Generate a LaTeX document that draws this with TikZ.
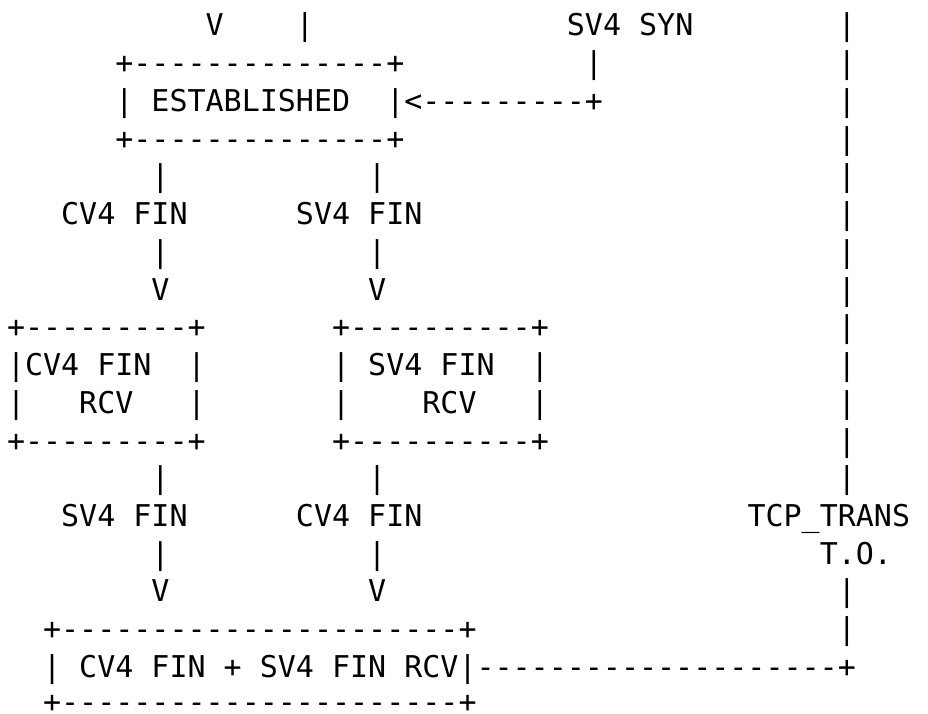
\documentclass[tikz,border=0pt]{standalone}
\usepackage{fontspec}
\setmonofont{DejaVu Sans Mono}
\newcommand\gap[1]{\hspace*{#1\dimexpr0.60205em\relax}}
\tikzset{
  asciitext/.style={anchor=base west,inner sep=0pt,outer sep=0pt,
    font=\ttfamily\fontsize{30}{36}\selectfont\frenchspacing},
}
\newcommand\asciiline[3][0]{\node[asciitext] (l#2) at (7,{-36-(#2-1)*37.73+#1}) {#3};}
\begin{document}
\begin{tikzpicture}[x=1pt,y=1pt]
\useasboundingbox (0,0) rectangle (928,-714);
\asciiline{1}{\gap{11}V\gap{4}|\gap{14}SV4 SYN\gap{8}|}
\asciiline{2}{\gap{6}+--------------+\gap{10}|\gap{13}|}
\asciiline{3}{\gap{6}| ESTABLISHED\gap{2}|<---------+\gap{13}|}
\asciiline{4}{\gap{6}+--------------+\gap{24}|}
\asciiline{5}{\gap{8}|\gap{11}|\gap{25}|}
\asciiline{6}{\gap{3}CV4 FIN\gap{6}SV4 FIN\gap{23}|}
\asciiline{7}{\gap{8}|\gap{11}|\gap{25}|}
\asciiline{8}{\gap{8}V\gap{11}V\gap{25}|}
\asciiline{9}{+---------+\gap{7}+----------+\gap{16}|}
\asciiline{10}{|CV4 FIN\gap{2}|\gap{7}| SV4 FIN\gap{2}|\gap{16}|}
\asciiline{11}{|\gap{3}RCV\gap{3}|\gap{7}|\gap{4}RCV\gap{3}|\gap{16}|}
\asciiline{12}{+---------+\gap{7}+----------+\gap{16}|}
\asciiline{13}{\gap{8}|\gap{11}|\gap{25}|}
\asciiline{14}{\gap{3}SV4 FIN\gap{6}CV4 FIN\gap{18}TCP\_TRANS}
\asciiline{15}{\gap{8}|\gap{11}|\gap{24}T.O.}
\asciiline{16}{\gap{8}V\gap{11}V\gap{25}|}
\asciiline{17}{\gap{2}+----------------------+\gap{20}|}
\asciiline{18}{\gap{2}| CV4 FIN + SV4 FIN RCV|--------------------+}
\asciiline[2.5]{19}{\gap{2}+----------------------+}
\end{tikzpicture}
\end{document}
